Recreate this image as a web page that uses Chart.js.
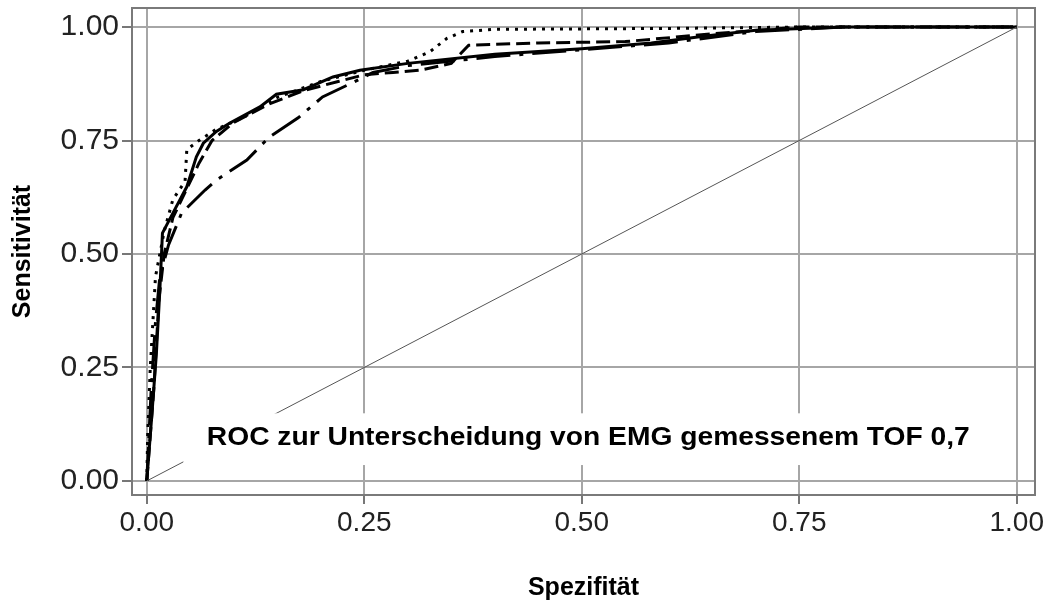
<!DOCTYPE html>
<html>
<head>
<meta charset="utf-8">
<script src="https://cdn.jsdelivr.net/npm/chart.js@4.4.1/dist/chart.umd.min.js"></script>
<style>
  html, body { margin: 0; padding: 0; background: #fff; }
  #wrap { width: 1052px; height: 603px; }
</style>
</head>
<body>
<div id="wrap"><canvas id="rocChart" width="1052" height="603"></canvas></div>
<script>
// ── DATA ──
const tickValues = [0, 0.25, 0.5, 0.75, 1];

const diagX = [0, 1];
const diagY = [0, 1];

const solidX = [0, 0.006, 0.011, 0.015, 0.018, 0.030, 0.046, 0.057, 0.065, 0.080, 0.095, 0.130, 0.149, 0.180, 0.214, 0.245, 0.300, 0.400, 0.500, 0.580, 0.640, 0.700, 0.800, 1];
const solidY = [0, 0.15, 0.28, 0.42, 0.546, 0.59, 0.648, 0.714, 0.744, 0.77, 0.788, 0.824, 0.852, 0.862, 0.89, 0.905, 0.92, 0.94, 0.952, 0.965, 0.98, 0.993, 1, 1];

const dottedX = [0, 0.001, 0.004, 0.01, 0.02, 0.03, 0.044, 0.046, 0.06, 0.08, 0.11, 0.15, 0.2, 0.25, 0.3, 0.325, 0.345, 0.363, 0.4, 0.6, 0.75, 1];
const dottedY = [0, 0.1, 0.25, 0.45, 0.55, 0.62, 0.66, 0.73, 0.75, 0.775, 0.8, 0.845, 0.88, 0.905, 0.925, 0.945, 0.975, 0.99, 0.995, 0.997, 1, 1];

const dashedX = [0, 0.008, 0.014, 0.02, 0.03, 0.045, 0.06, 0.075, 0.1, 0.14, 0.18, 0.22, 0.25, 0.283, 0.314, 0.35, 0.37, 0.45, 0.55, 0.65, 0.75, 1];
const dashedY = [0, 0.2, 0.4, 0.5, 0.58, 0.64, 0.70, 0.75, 0.79, 0.83, 0.86, 0.88, 0.895, 0.90, 0.905, 0.92, 0.96, 0.965, 0.968, 0.985, 1, 1];

const dashDotX = [0, 0.005, 0.01, 0.015, 0.025, 0.04, 0.067, 0.08, 0.115, 0.141, 0.174, 0.202, 0.236, 0.26, 0.3, 0.4, 0.5, 0.6, 0.7, 0.8, 1];
const dashDotY = [0, 0.2, 0.35, 0.45, 0.52, 0.59, 0.641, 0.663, 0.707, 0.758, 0.80, 0.846, 0.877, 0.9, 0.915, 0.935, 0.95, 0.965, 0.99, 1, 1];

const annotationText = 'ROC zur Unterscheidung von EMG gemessenem TOF 0,7';

function toPoints(xs, ys) {
  return xs.map((x, i) => ({ x, y: ys[i] }));
}

// ── PLUGINS ──
const framePlugin = {
  id: 'frame',
  afterDraw(chart) {
    const { ctx, chartArea: a } = chart;
    ctx.save();
    ctx.strokeStyle = '#7a7a7a';
    ctx.lineWidth = 2;
    ctx.strokeRect(a.left, a.top, a.right - a.left, a.bottom - a.top);
    ctx.restore();
  }
};

// white box with the caption, covering grid and diagonal behind it
const labelPlugin = {
  id: 'rocLabel',
  afterDatasetsDraw(chart) {
    const { ctx, scales: { x, y } } = chart;
    const l = x.getPixelForValue(0.042), r = x.getPixelForValue(0.975);
    const t = y.getPixelForValue(0.149), b = y.getPixelForValue(0.035);
    ctx.save();
    ctx.fillStyle = '#fff';
    ctx.fillRect(l, t, r - l, b - t);
    ctx.fillStyle = '#000';
    ctx.font = 'bold 25px "Liberation Sans", Arial, sans-serif';
    ctx.textBaseline = 'middle';
    ctx.textAlign = 'left';
    const tx = x.getPixelForValue(0.069), ty = y.getPixelForValue(0.094);
    const w = ctx.measureText(annotationText).width;
    ctx.translate(tx, ty);
    ctx.scale(763 / w, 1);
    ctx.fillText(annotationText, 0, 0);
    ctx.restore();
  }
};

// ── CHART ──
const family = '"Liberation Sans", Arial, sans-serif';
const titleFont = { family, size: 25, weight: 'bold' };

new Chart(document.getElementById('rocChart').getContext('2d'), {
  type: 'scatter',
  data: {
    datasets: [
      { label: 'Referenz', data: toPoints(diagX, diagY), borderColor: '#555', borderWidth: 1 },
      { label: 'A', data: toPoints(dashDotX, dashDotY), borderColor: '#000', borderWidth: 3, borderDash: [34, 9, 4, 9] },
      { label: 'B', data: toPoints(dashedX, dashedY), borderColor: '#000', borderWidth: 3, borderDash: [14, 6] },
      { label: 'C', data: toPoints(dottedX, dottedY), borderColor: '#000', borderWidth: 3, borderDash: [3, 6] },
      { label: 'D', data: toPoints(solidX, solidY), borderColor: '#000', borderWidth: 3 }
    ].map(d => Object.assign(d, { showLine: true, pointRadius: 0, fill: false, tension: 0 }))
  },
  options: {
    responsive: false,
    animation: false,
    layout: { padding: { top: 8, right: 17, left: 0, bottom: 0 } },
    plugins: { legend: { display: false }, tooltip: { enabled: false } },
    scales: {
      x: {
        type: 'linear',
        min: -0.017,
        max: 1.021,
        afterFit: s => { s.height = 108; s.paddingLeft = 0; s.paddingRight = 0; },
        afterBuildTicks: s => { s.ticks = tickValues.map(v => ({ value: v })); },
        grid: { color: '#a6a6a6', lineWidth: 2, tickLength: 9, tickColor: '#777' },
        border: { display: false },
        ticks: { font: { family, size: 28 }, color: '#222', padding: 2, maxRotation: 0, callback: v => v.toFixed(2) },
        title: { display: true, text: 'Spezifität', font: titleFont, color: '#000', padding: { top: 0, bottom: 0 } }
      },
      y: {
        type: 'linear',
        min: -0.031,
        max: 1.042,
        afterFit: s => { s.width = 132; s.paddingTop = 0; s.paddingBottom = 0; },
        afterBuildTicks: s => { s.ticks = tickValues.map(v => ({ value: v })); },
        grid: { color: '#a6a6a6', lineWidth: 2, tickLength: 10, tickColor: '#777' },
        border: { display: false },
        ticks: { font: { family, size: 30 }, color: '#222', padding: 3, callback: v => v.toFixed(2) },
        title: { display: true, text: 'Sensitivität', font: titleFont, color: '#000', padding: { top: 8, bottom: 0 } }
      }
    }
  },
  plugins: [framePlugin, labelPlugin]
});
</script>
</body>
</html>
